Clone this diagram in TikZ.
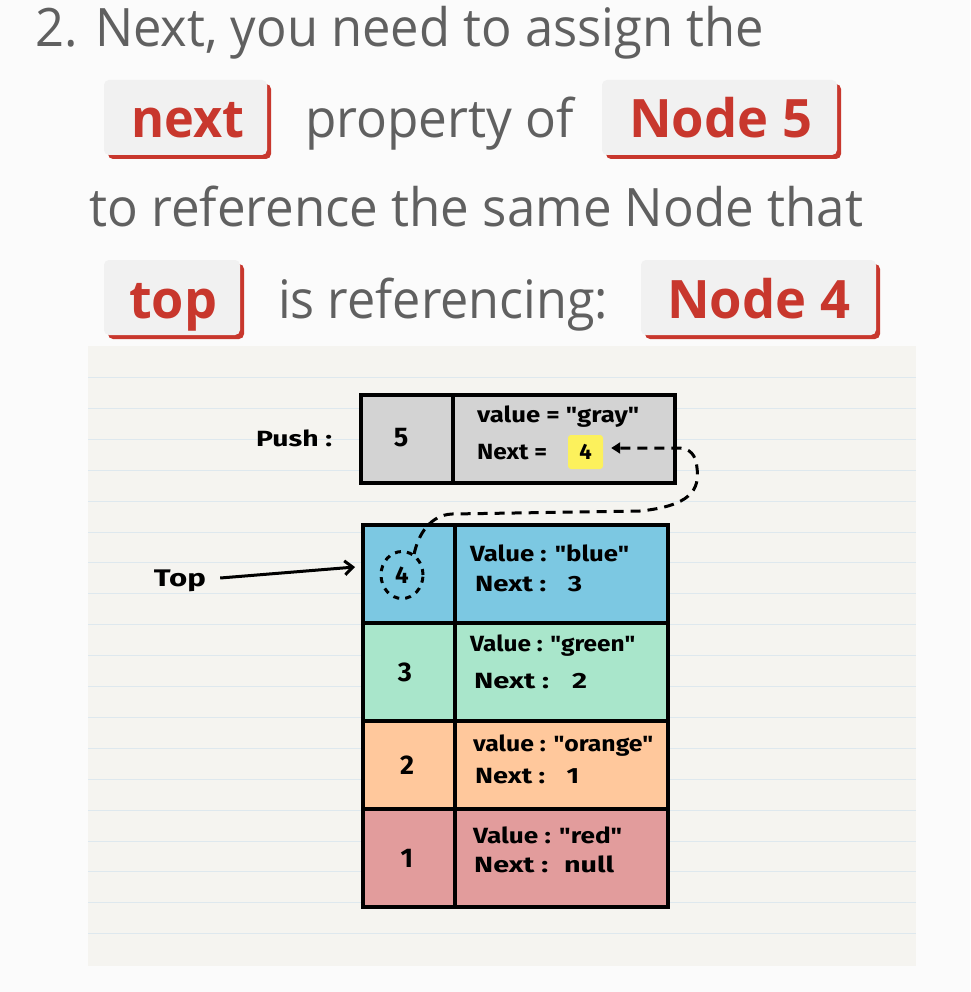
\documentclass[tikz,border=0pt]{standalone}
\usepackage{fontspec}
\setmainfont{Open Sans}
\newfontfamily\handf{Fira Sans}
\usepackage{graphicx}
\usetikzlibrary{arrows.meta,calc,shapes.geometric}
\definecolor{pagebg}{HTML}{FBFBFB}
\definecolor{txtgray}{HTML}{606060}
\definecolor{badgered}{HTML}{C8372D}
\definecolor{badgefill}{HTML}{F1F1F1}
\definecolor{paper}{HTML}{F5F4F0}
\definecolor{rulecol}{HTML}{DEE8EE}
\definecolor{cgray}{HTML}{D3D3D3}
\definecolor{cblue}{HTML}{7CC8E2}
\definecolor{cgreen}{HTML}{A9E6CB}
\definecolor{corange}{HTML}{FFC89C}
\definecolor{cred}{HTML}{E29C9C}
\definecolor{hlyellow}{HTML}{FCF15C}
\newcommand\fw[2]{\resizebox{#1pt}{\height}{#2}}
\begin{document}
\begin{tikzpicture}[x=1pt,y=-1pt,
  hdr/.style={inner sep=0pt, text=txtgray, font=\fontsize{53}{53}\selectfont},
  badgetxt/.style={inner sep=0pt, text=badgered, font=\fontsize{53}{53}\selectfont\bfseries},
  badge/.style={fill=badgefill, rounded corners=5pt, inner sep=0pt, minimum height=75pt,
    preaction={fill=badgered, transform canvas={shift={(4pt,-4pt)}}}},
  cell/.style={draw=black, line width=4pt, inner sep=0pt, anchor=north west,
    font=\handf\bfseries\fontsize{27}{27}\selectfont},
  hand/.style={inner sep=0pt, anchor=west, font=\handf\bfseries\fontsize{22}{22}\selectfont},
  rule/.style={draw=rulecol, line width=1pt},
  dconn/.style={line width=3pt, dash pattern=on 10pt off 7pt},
]
\useasboundingbox (0,0) rectangle (970,992);
\fill[pagebg] (0,0) rectangle (970,992);

% header text
\node[hdr, anchor=base west] (l1) at (35,47) {\fw{729}{2. Next, you need to assign the}};
\node[badge, minimum width=163pt] (bnext) at (185.5,117.5) {};
\node[badgetxt, anchor=base west] (tnext) at (131,138) {\fw{113}{next}};
\node[hdr, anchor=base west] (l2) at (305,138) {\fw{269}{property of}};
\node[badge, minimum width=235pt] (bn5) at (719.5,117.5) {};
\node[badgetxt, anchor=base west] (tn5) at (629,138) {\fw{183}{Node 5}};
\node[hdr, anchor=base west] (l3) at (89,226) {\fw{774}{to reference the same Node that}};
\node[badge, minimum width=136pt] (btop) at (172,297.5) {};
\node[badgetxt, anchor=base west] (ttop) at (129,318) {\fw{88}{top}};
\node[hdr, anchor=base west] (l4) at (278,318) {\fw{330}{is referencing:}};
\node[badge, minimum width=235pt] (bn4) at (758.5,297.5) {};
\node[badgetxt, anchor=base west] (tn4) at (667,318) {\fw{183}{Node 4}};

% paper
\fill[paper] (88,346) rectangle (916,966);
\foreach \k in {0,...,18}
  \draw[rule] (88,{377.5+30.9*\k}) -- (916,{377.5+30.9*\k});

% push node
\node[hand] (push) at (256,438) {\fw{76}{Push :}};
\node[cell, fill=cgray, minimum width=92pt, minimum height=88pt] (p5) at (359,393) {\hspace*{-12pt}\raisebox{4pt}{5}};
\node[cell, fill=cgray, minimum width=222pt, minimum height=88pt] (pv) at (451,393) {};
\node[hand] (pval) at (477,417) {\fw{162}{value = "gray"}};
\node[hand] (pnext) at (477,452) {\fw{70}{Next =}};
\node[fill=hlyellow, rounded corners=3pt, minimum width=35pt, minimum height=34pt, inner sep=0pt,
  font=\handf\bfseries\fontsize{22}{22}\selectfont] (hl) at (585.5,452) {4};

% stack
\node[cell, fill=cblue, minimum width=92pt, minimum height=98pt] (n4) at (361,523) {};
\node[cell, fill=cblue, minimum width=213pt, minimum height=98pt] (v4) at (453,523) {};
\node[cell, fill=cgreen, minimum width=92pt, minimum height=98pt] (n3) at (361,621) {\hspace*{-8pt}3};
\node[cell, fill=cgreen, minimum width=213pt, minimum height=98pt] (v3) at (453,621) {};
\node[cell, fill=corange, minimum width=92pt, minimum height=88pt] (n2) at (361,719) {\hspace*{-4pt}2};
\node[cell, fill=corange, minimum width=213pt, minimum height=88pt] (v2) at (453,719) {};
\node[cell, fill=cred, minimum width=92pt, minimum height=98pt] (n1) at (361,807) {\hspace*{-4pt}1};
\node[cell, fill=cred, minimum width=213pt, minimum height=98pt] (v1) at (453,807) {};

\node[hand] (val4) at (470,553) {\fw{159}{Value : "blue"}};
\node[hand] (nx4) at (475,584) {\fw{107}{Next :~~ 3}};
\node[hand] (val3) at (470,646) {\fw{165}{Value : "green"}};
\node[hand] (nx3) at (474,681) {\fw{113}{Next :~~ 2}};
\node[hand] (val2) at (473,746) {\fw{180}{value : "orange"}};
\node[hand] (nx2) at (475,776) {\fw{104}{Next :~~ 1}};
\node[hand] (val1) at (473,835) {\fw{149}{Value : "red"}};
\node[hand] (nx1) at (474,864) {\fw{140}{Next :~ null}};

% dashed circle around 4
\node[draw, ellipse, line width=3pt, dash pattern=on 6pt off 6pt, minimum width=42pt,
  minimum height=47pt, inner sep=0pt, font=\handf\bfseries\fontsize{24}{24}\selectfont] (circ) at (402,575) {4};

% Top label and arrow
\node[inner sep=0pt, font=\handf\bfseries\fontsize{24}{24}\selectfont] (toplbl) at (180,581) {\fw{52}{Top}};
\draw[line width=3pt, -{Straight Barb[length=8pt,width=14pt]}]
  ($(toplbl.east)+(14,-3)$) -- ($(n4.west)+(-6,-7)$);

% dashed connector from circle to highlighted 4
\draw[dconn, -{Triangle[length=9pt,width=11pt]}]
  (circ.60) .. controls (418,535) and (430,515) .. (452,514)
  -- (640,511) .. controls (690,506) and (700,490) .. (697,468)
  .. controls (696,455) and (690,448) .. (678,448)
  -- ($(hl.east)+(8,-4)$);
\end{tikzpicture}
\end{document}
